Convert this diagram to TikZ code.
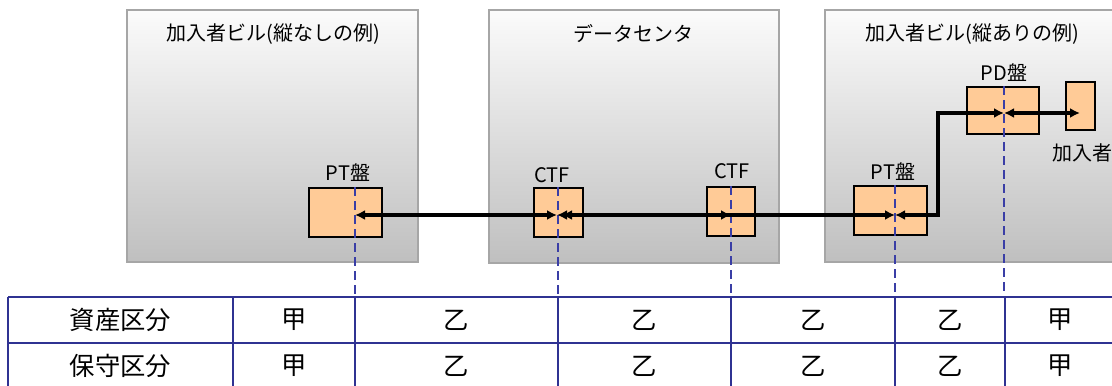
\documentclass[tikz,border=0pt]{standalone}
\usepackage{fontspec}
\setmainfont{Noto Sans CJK JP}
\usepackage{xcolor}
\usepackage{tikz}
\usetikzlibrary{arrows.meta}
\definecolor{cpeach}{HTML}{FFCB97}
\definecolor{cnavy}{HTML}{2F3292}
\definecolor{cdash}{HTML}{3A3EA6}
\definecolor{cwall}{HTML}{A6A6A6}
\tikzset{
  bldg/.style={draw=cwall, line width=1.4pt, top color=gray!3, bottom color=gray!50},
  panel/.style={draw=black, line width=1.1pt, fill=cpeach, inner sep=0pt},
  cable/.style={line width=3.4pt, {Latex[length=7.5pt,width=7.5pt]}-{Latex[length=7.5pt,width=7.5pt]}},
  bound/.style={cdash, line width=1.1pt, dash pattern=on 6.5pt off 4pt},
  grid/.style={cnavy, line width=1.6pt},
  lbl/.style={font=\fontsize{15}{18}\selectfont, inner sep=0pt},
  cell/.style={font=\fontsize{19}{22}\selectfont, inner sep=0pt},
}

\begin{document}
\begin{tikzpicture}[x=0.75pt, y=-0.75pt]

\clip (0,0) rectangle (1112,385);

% buildings
\shade[bldg] (127,10) rectangle (418,262);
\shade[bldg] (489,10) rectangle (779,263);
\shade[bldg] (825,10) rectangle (1125,262);

\node[lbl] (tsub) at (273,34) {加入者ビル(縦なしの例)};
\node[lbl] (tdc) at (633,34) {データセンタ};
\node[lbl] (tsubv) at (972,34) {加入者ビル(縦ありの例)};

% panels
\node[panel, minimum width=54.75pt, minimum height=36.75pt] (ptA) at (345.5,212.5) {};
\node[panel, minimum width=36.75pt, minimum height=36.75pt] (ctfA) at (558.5,212.5) {};
\node[panel, minimum width=36pt, minimum height=36.75pt] (ctfB) at (731,211.5) {};
\node[panel, minimum width=54.75pt, minimum height=36.75pt] (ptB) at (890.5,210.5) {};
\node[panel, minimum width=54pt, minimum height=35.25pt] (pd) at (1003,110.5) {};
\node[panel, minimum width=21.75pt, minimum height=36pt] (user) at (1080.5,106) {};

\node[lbl] (lptA) at (348,173) {PT盤};
\node[lbl] (lctfA) at (552,175) {CTF};
\node[lbl] (lctfB) at (732,171) {CTF};
\node[lbl] (lptB) at (893,172) {PT盤};
\node[lbl] (lpd) at (1004,73) {PD盤};
\node[lbl, anchor=west] (luser) at (1052,153) {加入者};

% boundary lines down to the table
\coordinate (xA) at (355,297);
\coordinate (xB) at (558,297);
\coordinate (xC) at (731,297);
\coordinate (xD) at (895,297);
\coordinate (xE) at (1004,297);
\draw[bound] (xA |- ptA.north) -- (xA);
\draw[bound] (xB |- ctfA.north) -- (xB);
\draw[bound] (xC |- ctfB.north) -- (xC);
\draw[bound] (xD |- ptB.north) -- (xD);
\draw[bound] (xE |- pd.north) -- (xE);

% cables
\coordinate (cA) at (355,215);
\coordinate (cB) at (557,215);
\coordinate (cB2) at (562,215);
\coordinate (cC) at (731,215);
\coordinate (cD) at (895,215);
\coordinate (cE) at (1004,113);
\coordinate (cF) at (1080,113);
\coordinate (riser) at (938,215);

\draw[cable] (cA) -- (cB);
\draw[cable] (cB) -- (cC);
\draw[cable] (cB2) -- (cD);
\draw[cable] (cD) -- (riser) -- (riser |- cE) -- (cE);
\draw[cable] (cE) -- (cF);

% table
\foreach \y in {297,343,389} \draw[grid] (8,\y) -- (1125,\y);
\foreach \x in {8,233,355,558,731,895,1005} \draw[grid] (\x,297) -- (\x,389);

\foreach \x/\t [count=\i] in {120.5/資産区分, 294/甲, 456.5/乙, 644.5/乙, 813/乙, 950/乙, 1060/甲}
  \node[cell] (asset\i) at (\x,320) {\t};
\foreach \x/\t [count=\i] in {120.5/保守区分, 294/甲, 456.5/乙, 644.5/乙, 813/乙, 950/乙, 1060/甲}
  \node[cell] (maint\i) at (\x,366) {\t};

\end{tikzpicture}
\end{document}
